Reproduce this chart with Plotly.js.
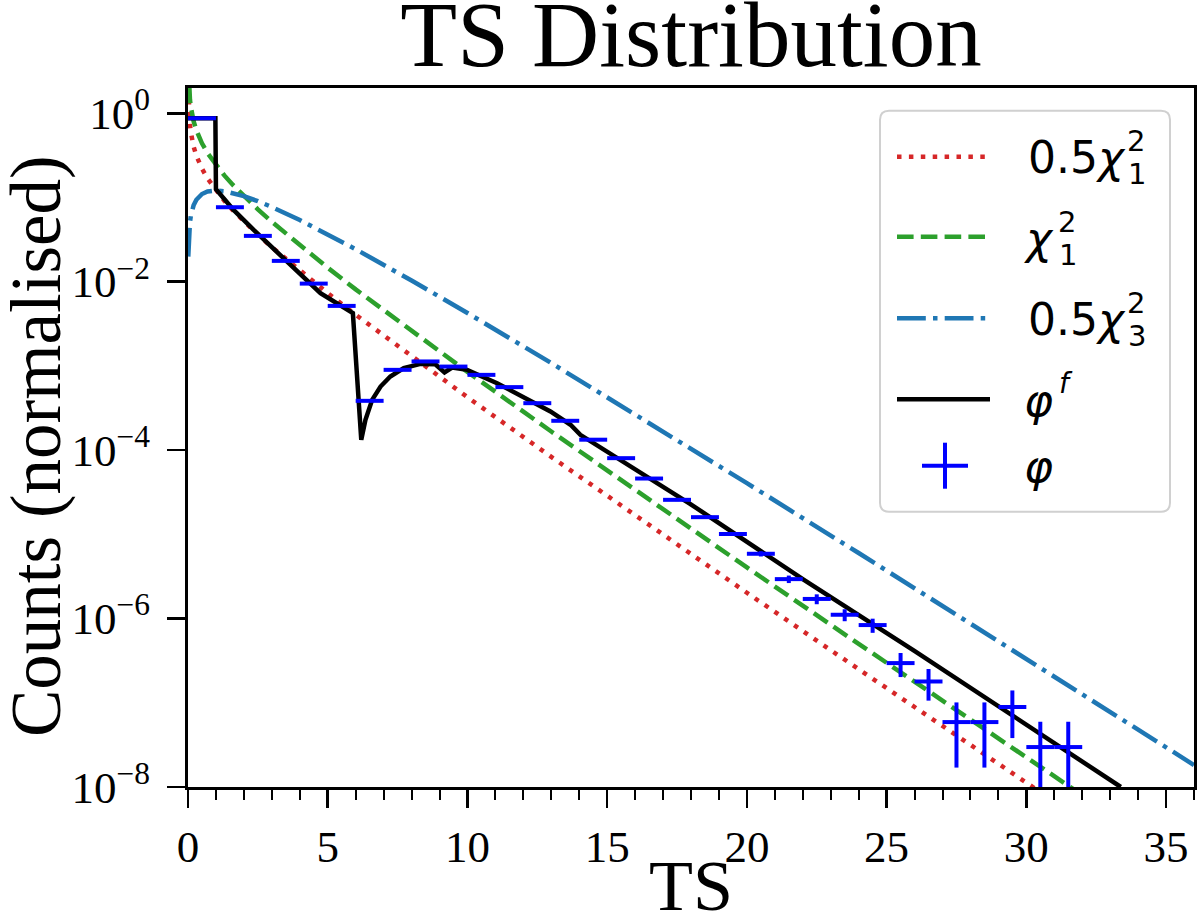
<!DOCTYPE html>
<html>
<head>
<meta charset="utf-8">
<script src="https://cdn.plot.ly/plotly-3.0.1.min.js"></script>
<style>html,body{margin:0;padding:0;background:#fff;}#chart{width:1200px;height:918px;}</style>
</head>
<body>
<div id="chart"></div>
<script>
// ---- data ----
// histogram of TS (phi), bin centres and normalised counts
const binCenters = [0.5,1.5,2.5,3.5,4.5,5.5,6.5,7.5,8.5,9.5,10.5,11.5,12.5,13.5,14.5,15.5,16.5,17.5,18.5,19.5,20.5,21.5,22.5,23.5,24.5,25.5,26.5,27.5,28.5,29.5,30.5,31.5];
const phiCounts = [0.873,0.0766,0.0350,0.01767,0.00949,0.00516,3.85e-4,8.98e-4,1.13e-3,9.82e-4,7.83e-4,5.60e-4,3.61e-4,2.23e-4,1.33e-4,8.03e-5,4.60e-5,2.57e-5,1.60e-5,1.01e-5,5.88e-6,2.94e-6,1.71e-6,1.11e-6,8.37e-7,2.96e-7,1.79e-7,5.90e-8,5.90e-8,8.91e-8,2.98e-8,2.98e-8];
const phiErrUp = [1.6e-4,4.8e-5,3.2e-5,2.3e-5,1.7e-5,1.2e-5,3.4e-6,5.2e-6,5.8e-6,5.4e-6,4.8e-6,4.1e-6,3.3e-6,2.6e-6,2.0e-6,1.5e-6,1.2e-6,8.7e-7,6.9e-7,5.5e-7,4.2e-7,3.0e-7,2.3e-7,1.8e-7,1.6e-7,9.4e-8,7.3e-8,4.2e-8,4.2e-8,5.1e-8,2.98e-8,2.98e-8];
const phiErrDown = [1.6e-4,4.8e-5,3.2e-5,2.3e-5,1.7e-5,1.2e-5,3.4e-6,5.2e-6,5.8e-6,5.4e-6,4.8e-6,4.1e-6,3.3e-6,2.6e-6,2.0e-6,1.5e-6,1.2e-6,8.7e-7,6.9e-7,5.5e-7,4.2e-7,3.0e-7,2.3e-7,1.8e-7,1.6e-7,9.4e-8,7.3e-8,4.2e-8,4.2e-8,5.1e-8,2.97e-8,2.97e-8];
const binHalfWidth = 0.5;

// fitted distribution phi^f
const phifX = [0,0.98,1.0,1.63,2.35,3.19,3.96,4.74,5.9,6.2,6.35,6.59,6.89,7.24,7.72,8.32,8.85,9.18,9.45,9.99,11.06,12.02,12.97,13.69,14.04,17.98,22.04,25.98,29.02,33.38];
const phifY = [0.873,0.873,0.1253,0.0711,0.0412,0.02275,0.01318,0.00730,0.00423,1.324e-4,2.29e-4,3.95e-4,5.69e-4,7.48e-4,9.40e-4,1.057e-3,1.047e-3,8.36e-4,9.55e-4,8.97e-4,6.24e-4,4.21e-4,2.88e-4,2.00e-4,1.52e-4,2.29e-5,2.88e-6,4.17e-7,8.91e-8,1.0e-8];

// reference curves sampled along TS
const curveX = [0.01,0.02,0.04,0.07,0.1,0.15,0.2,0.3,0.4,0.5,0.7,1.0,1.3,1.6,2,2.5,3,4,5,6,8,10,13,16,20,24,28,32,36];
const halfChi2k1 = [1.985,1.397,0.9776,0.7280,0.6000,0.4778,0.4036,0.3135,0.2582,0.2197,0.1680,0.1210,0.09133,0.07086,0.05189,0.03614,0.02570,0.01350,0.007323,0.004054,0.001292,4.250e-4,8.317e-5,1.673e-5,2.025e-6,2.502e-7,3.135e-8,3.968e-9,5.063e-10];
const chi2k1 = [3.969,2.793,1.955,1.456,1.200,0.9556,0.8072,0.6269,0.5164,0.4394,0.3360,0.2420,0.1827,0.1417,0.1038,0.07229,0.05139,0.02700,0.01465,0.008109,0.002583,8.500e-4,1.664e-4,3.346e-5,4.050e-6,5.003e-7,6.269e-8,7.937e-9,1.013e-9];
const halfChi2k3 = [0.01985,0.02793,0.03910,0.05096,0.06000,0.07167,0.08072,0.09404,0.1033,0.1099,0.1176,0.1210,0.1187,0.1134,0.1038,0.09036,0.07709,0.05399,0.03661,0.02433,0.01033,0.004250,0.001081,2.677e-4,4.050e-5,6.004e-6,8.777e-7,1.270e-7,1.823e-8];

const yTickVals = [1, 1e-2, 1e-4, 1e-6, 1e-8];
const yTickText = ['10<sup>0</sup>','10<sup>\u22122</sup>','10<sup>\u22124</sup>','10<sup>\u22126</sup>','10<sup>\u22128</sup>'];
const xTickVals = [0,5,10,15,20,25,30,35];

// ---- styling ----
const LW = 4.5;
const RED = '#d62728', GREEN = '#2ca02c', TBLUE = '#1f77b4';
const DOT = '4.5px,7.4px', DASH = '16.6px,7.2px', DASHDOT = '28.8px,7.2px,4.5px,7.2px';
const serif = 'Liberation Serif, Times New Roman, serif';
const sans = 'DejaVu Sans, sans-serif';

const traces = [
  {x: curveX, y: halfChi2k1, mode: 'lines', name: '0.5χ²₁', line: {color: RED, width: LW, dash: DOT}},
  {x: curveX, y: chi2k1, mode: 'lines', name: 'χ²₁', line: {color: GREEN, width: LW, dash: DASH}},
  {x: curveX, y: halfChi2k3, mode: 'lines', name: '0.5χ²₃', line: {color: TBLUE, width: LW, dash: DASHDOT}},
  {x: phifX, y: phifY, mode: 'lines', name: 'φf', line: {color: '#000', width: LW}},
  {x: binCenters, y: phiCounts, mode: 'markers', name: 'φ',
   marker: {color: 'rgba(0,0,0,0)', size: 1},
   error_x: {type: 'constant', value: binHalfWidth, color: '#0000ff', thickness: 4, width: 0},
   error_y: {type: 'data', symmetric: false, array: phiErrUp, arrayminus: phiErrDown, color: '#0000ff', thickness: 4, width: 0}}
];

// plot area in pixels -> paper helpers for the hand-drawn legend
const L = 188, R = 1194, T = 88, B = 787;
const px = v => (v - L) / (R - L);
const py = v => (B - v) / (B - T);

const shapes = [];
// legend frame (rounded)
(function(){
  const x0 = px(880), x1 = px(1170), y0 = py(511.7), y1 = py(110.7);
  const rx = 9 / (R - L), ry = 9 / (B - T);
  const path = `M ${x0+rx},${y1} L ${x1-rx},${y1} Q ${x1},${y1} ${x1},${y1-ry} L ${x1},${y0+ry} Q ${x1},${y0} ${x1-rx},${y0} L ${x0+rx},${y0} Q ${x0},${y0} ${x0},${y0+ry} L ${x0},${y1-ry} Q ${x0},${y1} ${x0+rx},${y1} Z`;
  shapes.push({type: 'path', xref: 'paper', yref: 'paper', path, fillcolor: 'rgba(255,255,255,0.85)', line: {color: '#d0d0d0', width: 2}, layer: 'above'});
})();
const legLine = (yPix, color, dash) => shapes.push({type: 'line', xref: 'paper', yref: 'paper', x0: px(897), x1: px(990), y0: py(yPix), y1: py(yPix), line: {color, width: LW, dash}, layer: 'above'});
legLine(156.7, RED, DOT);
legLine(236.7, GREEN, DASH);
legLine(318.3, TBLUE, DASHDOT);
legLine(399.3, '#000', 'solid');
shapes.push({type: 'line', xref: 'paper', yref: 'paper', x0: px(922), x1: px(968), y0: py(465.7), y1: py(465.7), line: {color: '#0000ff', width: 4}, layer: 'above'});
shapes.push({type: 'line', xref: 'paper', yref: 'paper', x0: px(945), x1: px(945), y0: py(442.7), y1: py(488.7), line: {color: '#0000ff', width: 4}, layer: 'above'});

const ann = (text, xPix, yPix, size) => ({text, xref: 'paper', yref: 'paper', x: px(xPix), y: py(yPix), xanchor: 'left', yanchor: 'middle', showarrow: false, borderpad: 0, font: {family: sans, size, color: '#000'}});
const annotations = [
  ann('0.5<i>χ</i>', 1027, 157, 44), ann('2', 1126, 141, 29), ann('1', 1127, 173.5, 29),
  ann('<i>χ</i>', 1023, 238, 44), ann('2', 1057, 222, 29), ann('1', 1058, 254.5, 29),
  ann('0.5<i>χ</i>', 1027, 319, 44), ann('2', 1126, 303, 29), ann('3', 1127, 335.5, 29),
  ann('<i>φ</i>', 1023, 400, 44), ann('<i>f</i>', 1058, 383, 28),
  ann('<i>φ</i>', 1023, 466, 44),
  // axis titles
  {text: 'TS', xref: 'paper', yref: 'paper', x: 0.5, y: py(886), xanchor: 'center', yanchor: 'middle', showarrow: false, borderpad: 0, font: {family: serif, size: 72, color: '#000'}},
  {text: 'Counts (normalised)', xref: 'paper', yref: 'paper', x: px(36), y: py(446), xanchor: 'center', yanchor: 'middle', textangle: -90, showarrow: false, borderpad: 0, font: {family: serif, size: 71, color: '#000'}}
];

const layout = {
  width: 1200, height: 918,
  margin: {l: L, r: 1200 - R, t: T, b: 918 - B},
  paper_bgcolor: '#fff', plot_bgcolor: '#fff',
  showlegend: false,
  title: {text: 'TS Distribution', font: {family: serif, size: 93, color: '#000'}, x: 0.5, xref: 'paper', xanchor: 'center', y: 1 - 33/918, yref: 'container', yanchor: 'middle'},
  xaxis: {
    range: [0, 36], showgrid: false, zeroline: false,
    showline: true, linecolor: '#000', linewidth: 3, mirror: true,
    ticks: 'outside', ticklen: 18, tickwidth: 2.5, tickcolor: '#000',
    tickvals: xTickVals, ticktext: xTickVals.map(String),
    tickfont: {family: serif, size: 45, color: '#000'},
    minor: {dtick: 1, ticks: 'outside', ticklen: 10, tickwidth: 2, tickcolor: '#000', showgrid: false}
  },
  yaxis: {
    type: 'log', range: [-8, 0.30], showgrid: false, zeroline: false,
    showline: true, linecolor: '#000', linewidth: 3, mirror: true,
    ticks: 'outside', ticklen: 18, tickwidth: 2.5, tickcolor: '#000',
    tickvals: yTickVals, ticktext: yTickText, ticklabelstandoff: 8,
    tickfont: {family: serif, size: 45, color: '#000'}
  },
  shapes, annotations
};

Plotly.newPlot('chart', traces, layout, {displayModeBar: false, staticPlot: true});
</script>
</body>
</html>
